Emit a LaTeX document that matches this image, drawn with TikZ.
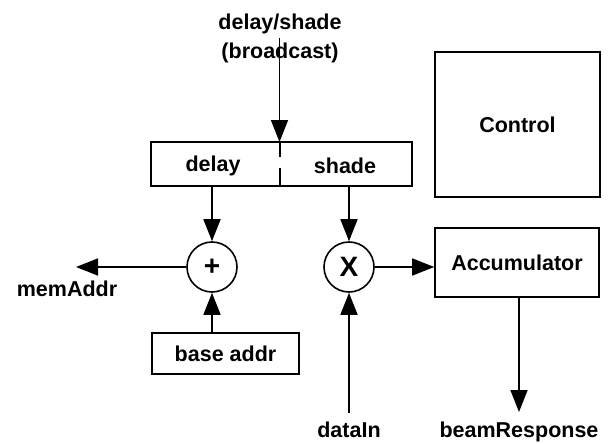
\documentclass[tikz,border=0pt]{standalone}
\usepackage{fontspec}
\setmainfont{Liberation Sans}
\usetikzlibrary{arrows.meta}
\begin{document}
\begin{tikzpicture}[x=1pt,y=-1pt,line width=1.6pt,
  lbl/.style={font=\fontsize{21.5}{25}\selectfont\bfseries,inner sep=0pt},
  blk/.style={draw,rectangle,inner sep=0pt,font=\fontsize{21.5}{25}\selectfont\bfseries},
  arr/.style={-{Triangle[length=22pt,width=17pt]}},
  op/.style={draw,circle,minimum size=50pt,inner sep=0pt,font=\fontsize{28}{30}\selectfont\bfseries}]
\useasboundingbox (0,0) rectangle (608,444);
% top register box
\node[blk,minimum width=261pt,minimum height=44pt] (regs) at (281.5,164) {};
\node[lbl] (dly) at (213,166) {delay};
\node[lbl] (shd) at (345,166) {shade};
\coordinate (divtop) at (280,142);
\coordinate (divgap1) at (280,157);
\coordinate (divgap2) at (280,168);
\coordinate (divbot) at (280,186);
\draw (divtop) -- (divgap1);
\draw (divgap2) -- (divbot);
% broadcast input
\node[lbl] (bc1) at (280,24) {delay/shade};
\node[lbl] (bc2) at (280,53) {(broadcast)};
\coordinate (bctop) at (279.5,38);
\coordinate (bcend) at (279.5,142);
\draw[arr] (bctop) -- (bcend);
% operators
\node[op] (plus) at (212,267) {+};
\node[op] (mul) at (349,267) {X};
\draw[arr] (regs.south -| plus) -- (plus.north);
\draw[arr] (regs.south -| mul) -- (mul.north);
% base addr
\node[blk,minimum width=147pt,minimum height=41pt] (base) at (225.5,353.5) {base addr};
\draw[arr] (base.north -| plus) -- (plus.south);
% memAddr
\coordinate (mem) at (76,267);
\draw[arr] (plus.west) -- (mem);
\node[lbl] (memlbl) at (67,289) {memAddr};
% dataIn
\coordinate (din) at (349,413);
\draw[arr] (din) -- (mul.south);
\node[lbl,anchor=base] (dinlbl) at (349,437) {dataIn};
% accumulator
\node[blk,minimum width=164pt,minimum height=69pt] (acc) at (517,262.5) {Accumulator};
\draw[arr] (mul.east) -- (mul.east -| acc.west);
\coordinate (beam) at (519,412);
\draw[arr] (acc.south -| beam) -- (beam);
\node[lbl,anchor=base] (beamlbl) at (519,437) {beamResponse};
% control
\node[blk,minimum width=165pt,minimum height=145pt] (ctrl) at (517.5,124.5) {Control};
\end{tikzpicture}
\end{document}
